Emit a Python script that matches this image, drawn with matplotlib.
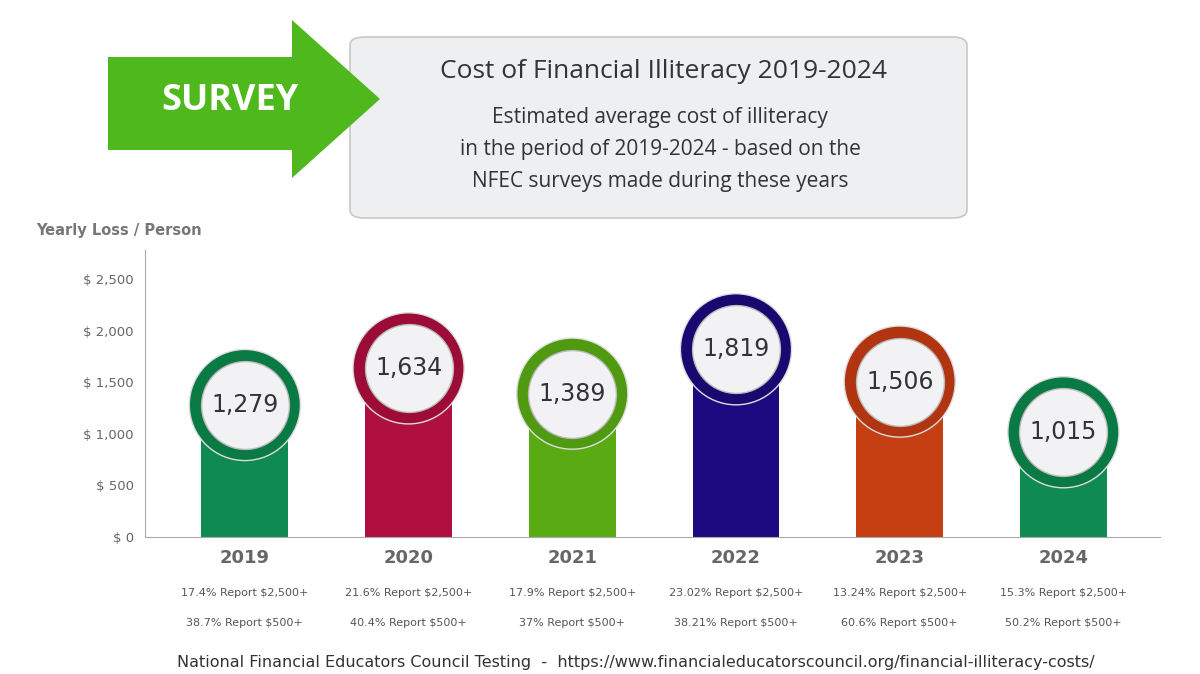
import matplotlib.pyplot as plt
from matplotlib.patches import Polygon, FancyBboxPatch

years = ["2019", "2020", "2021", "2022", "2023", "2024"]
values = [1279, 1634, 1389, 1819, 1506, 1015]
labels = ["1,279", "1,634", "1,389", "1,819", "1,506", "1,015"]
report_2500 = ["17.4% Report $2,500+", "21.6% Report $2,500+", "17.9% Report $2,500+",
               "23.02% Report $2,500+", "13.24% Report $2,500+", "15.3% Report $2,500+"]
report_500 = ["38.7% Report $500+", "40.4% Report $500+", "37% Report $500+",
              "38.21% Report $500+", "60.6% Report $500+", "50.2% Report $500+"]
colors = ["#0f8a50", "#b0103f", "#5aaa14", "#1e0a80", "#c53f12", "#0f8a50"]
ring = ["#0a7a45", "#9c0c36", "#4f9a10", "#180870", "#b03510", "#0a7a45"]
yticks = [0, 500, 1000, 1500, 2000, 2500]

W, H = 1200, 674
fig = plt.figure(figsize=(12, 6.74), dpi=100)
fig.patch.set_facecolor("white")

def fx(x): return x / W
def fy(y): return 1 - y / H

# header box, then arrow on top
fig.patches.append(FancyBboxPatch((fx(350), fy(218)), fx(617), 181 / H,
                                  boxstyle="round,pad=0,rounding_size=0.012",
                                  transform=fig.transFigure, facecolor="#eeeff0",
                                  edgecolor="#c8c8c8", linewidth=1.2, zorder=1))
arrow = [(108, 57), (292, 57), (292, 20), (380, 99), (292, 178), (292, 150), (108, 150)]
fig.patches.append(Polygon([(fx(a), fy(b)) for a, b in arrow], closed=True,
                           transform=fig.transFigure, facecolor="#4fb81c",
                           edgecolor="none", zorder=2))
fig.text(fx(230), fy(101), "SURVEY", color="white", fontsize=26, fontweight="bold",
         ha="center", va="center", family="Open Sans", zorder=3)
fig.text(fx(664), fy(72), "Cost of Financial Illiteracy 2019-2024", fontsize=19,
         ha="center", va="center", color="#333333", family="Open Sans")
for i, line in enumerate(["Estimated average cost of illiteracy",
                          "in the period of 2019-2024 - based on the",
                          "NFEC surveys made during these years"]):
    fig.text(fx(660), fy(118 + 31.5 * i), line, fontsize=15, ha="center", va="center",
             color="#333333", family="Open Sans")

ax = fig.add_axes([fx(145), 137 / H, (1160 - 145) / W, (537 - 250) / H])
x = list(range(len(years)))
ax.bar(x, values, width=0.53, color=colors, zorder=2)
ax.scatter(x, values, s=6400, color=ring, zorder=3, edgecolors="#dddddd", linewidths=1)
ax.scatter(x, values, s=4000, color="#f2f2f4", zorder=4, edgecolors="#bbbbbb", linewidths=1)
for xi, v, l in zip(x, values, labels):
    ax.text(xi, v, l, ha="center", va="center", fontsize=17, color="#333333", zorder=5)
ax.set_xlim(-0.61, 5.59)
ax.set_ylim(0, 2781)
ax.set_yticks(yticks)
ax.set_yticklabels(["$ 0"] + [f"$ {t:,}" for t in yticks[1:]], color="#666666", fontsize=9.5)
ax.set_xticks([])
for s in ["top", "right"]:
    ax.spines[s].set_visible(False)
ax.spines["left"].set_color("#aaaaaa")
ax.spines["bottom"].set_color("#aaaaaa")
ax.tick_params(axis="y", length=0, pad=8)
fig.text(fx(36), fy(230), "Yearly Loss / Person", fontsize=10.5, fontweight="bold",
         color="#777777", va="center")

for xi, yr, a, b in zip(x, years, report_2500, report_500):
    ax.text(xi, -205, yr, ha="center", va="center", fontsize=13, fontweight="bold", color="#666666")
    ax.text(xi, -540, a, ha="center", va="center", fontsize=8, color="#555555")
    ax.text(xi, -830, b, ha="center", va="center", fontsize=8, color="#555555")

fig.text(fx(636), fy(663), "National Financial Educators Council Testing  -  "
         "https://www.financialeducatorscouncil.org/financial-illiteracy-costs/",
         fontsize=11.5, ha="center", va="center", color="#333333")

fig.savefig("out.png", dpi=100)
